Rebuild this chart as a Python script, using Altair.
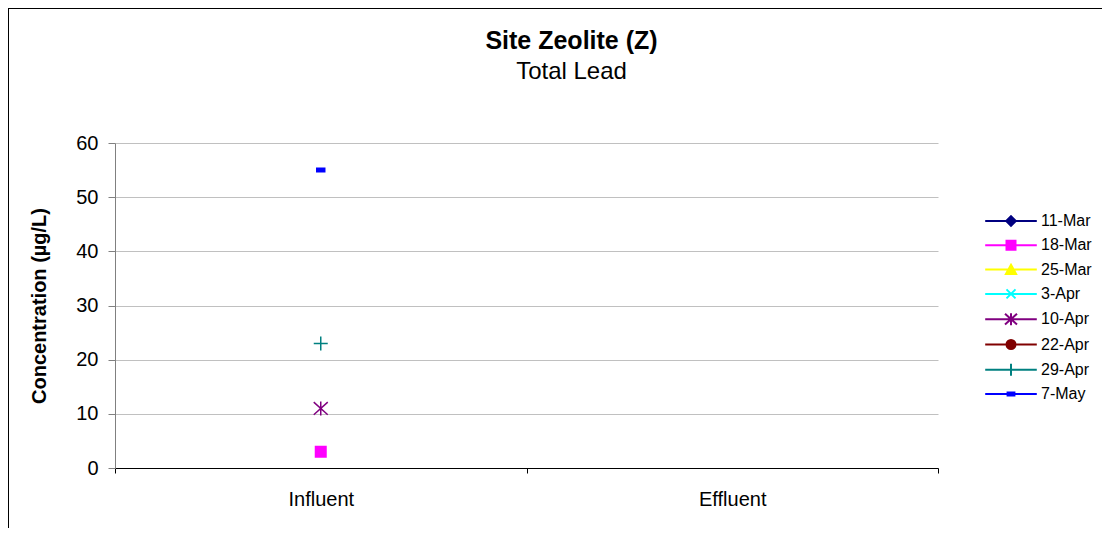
import altair as alt
import pandas as pd

# ---- data ----
series = ["11-Mar", "18-Mar", "25-Mar", "3-Apr", "10-Apr", "22-Apr", "29-Apr", "7-May"]
sites = ["Influent", "Effluent"]
influent = [None, 3, None, None, 11, None, 23, 55]
effluent = [None, None, None, None, None, None, None, None]
y_ticks = [0, 10, 20, 30, 40, 50, 60]

colors = ["#000080", "#FF00FF", "#FFFF00", "#00FFFF", "#800080", "#800000", "#008080", "#0000FF"]

# marker shapes (Excel-like)
marker_paths = [
    "M0,-0.8L0.8,0L0,0.8L-0.8,0Z",                                   # diamond
    "M-0.75,-0.75H0.75V0.75H-0.75Z",                                 # square
    "M0,-0.8L0.85,0.75H-0.85Z",                                      # triangle
    "M-0.75,-0.75L0.75,0.75M-0.75,0.75L0.75,-0.75",                  # x
    "M-1,-0.9L1,0.9M-1,0.9L1,-0.9M0,-1V1",                           # asterisk
    "M0.75,0A0.75,0.75,0,1,1,-0.75,0A0.75,0.75,0,1,1,0.75,0Z",       # circle
    "M-1,0H1M0,-1V1",                                                # plus
    "M-0.57,-0.25H0.57V0.25H-0.57Z",                                 # dash
]
legend_paths = ["M-4.3,0H4.3" + p for p in marker_paths]

rows = []
for s, vi, ve in zip(series, influent, effluent):
    rows.append({"date": s, "site": "Influent", "value": vi})
    rows.append({"date": s, "site": "Effluent", "value": ve})
df = pd.DataFrame(rows)

FONT = "Liberation Sans"

frame = alt.Chart(alt.Data(values=[{}])).mark_rect(
    fill="transparent", stroke="black", strokeWidth=2
).encode(
    x=alt.value(-107), x2=alt.value(1100), y=alt.value(-135), y2=alt.value(600)
)

x_enc = alt.X(
    "site:N",
    sort=sites,
    scale=alt.Scale(type="band", domain=sites, paddingInner=0, paddingOuter=0),
    axis=alt.Axis(
        title=None, labelAngle=0, tickBand="extent", labelFontSize=20, labelColor="black",
        domainColor="black", tickColor="black", tickSize=5, labelPadding=16, grid=False,
        labelFont=FONT,
    ),
)
y_enc = alt.Y(
    "value:Q",
    scale=alt.Scale(domain=[0, 60], nice=False),
    axis=alt.Axis(
        title="Concentration (µg/L)", values=y_ticks, grid=True, gridColor="#c0c0c0",
        domainColor="#808080", tickColor="#808080", tickSize=7, labelPadding=10,
        labelFontSize=20, labelColor="black", titleFontSize=20, titleFontWeight="bold",
        titleColor="black", titlePadding=26, labelFont=FONT, titleFont=FONT,
    ),
)

points = alt.Chart(df).transform_filter("isValid(datum.value)").mark_point(
    filled=True, size=196, strokeWidth=1.5, opacity=1
).encode(
    x=x_enc,
    y=y_enc,
    fill=alt.Fill("date:N", scale=alt.Scale(domain=series, range=colors), legend=None),
    stroke=alt.Stroke("date:N", scale=alt.Scale(domain=series, range=colors), legend=None),
    shape=alt.Shape("date:N", scale=alt.Scale(domain=series, range=marker_paths), legend=None),
)

leg = alt.Legend(
    title=None, orient="none", legendX=888, legendY=70, labelFontSize=16, labelColor="black",
    labelFont=FONT, symbolSize=144, symbolStrokeWidth=2, labelOffset=22, rowPadding=6.3,
    padding=0, symbolOffset=0,
)

legend_layer = alt.Chart(df).transform_filter("false").mark_point(
    filled=True, opacity=1
).encode(
    fill=alt.Fill("date:N", scale=alt.Scale(domain=series, range=colors), legend=leg),
    stroke=alt.Stroke("date:N", scale=alt.Scale(domain=series, range=colors), legend=leg),
    shape=alt.Shape("date:N", scale=alt.Scale(domain=series, range=legend_paths), legend=leg),
)

chart = alt.layer(frame, points, legend_layer).resolve_scale(
    fill="independent", stroke="independent", shape="independent"
).properties(
    width=823,
    height=325,
    autosize=alt.AutoSizeParams(type="none"),
    padding={"left": 107, "top": 135, "right": 164, "bottom": 60},
    title=alt.Title(
        "Site Zeolite (Z)", subtitle="Total Lead", fontSize=25, fontWeight="bold",
        subtitleFontSize=24, color="black", subtitleColor="black", anchor="middle",
        dx=45, offset=-77, subtitlePadding=6, font=FONT, subtitleFont=FONT,
    ),
).configure(font=FONT, background="white").configure_view(strokeWidth=0)

chart.save("out.html", embed_options={"renderer": "svg", "actions": False})
